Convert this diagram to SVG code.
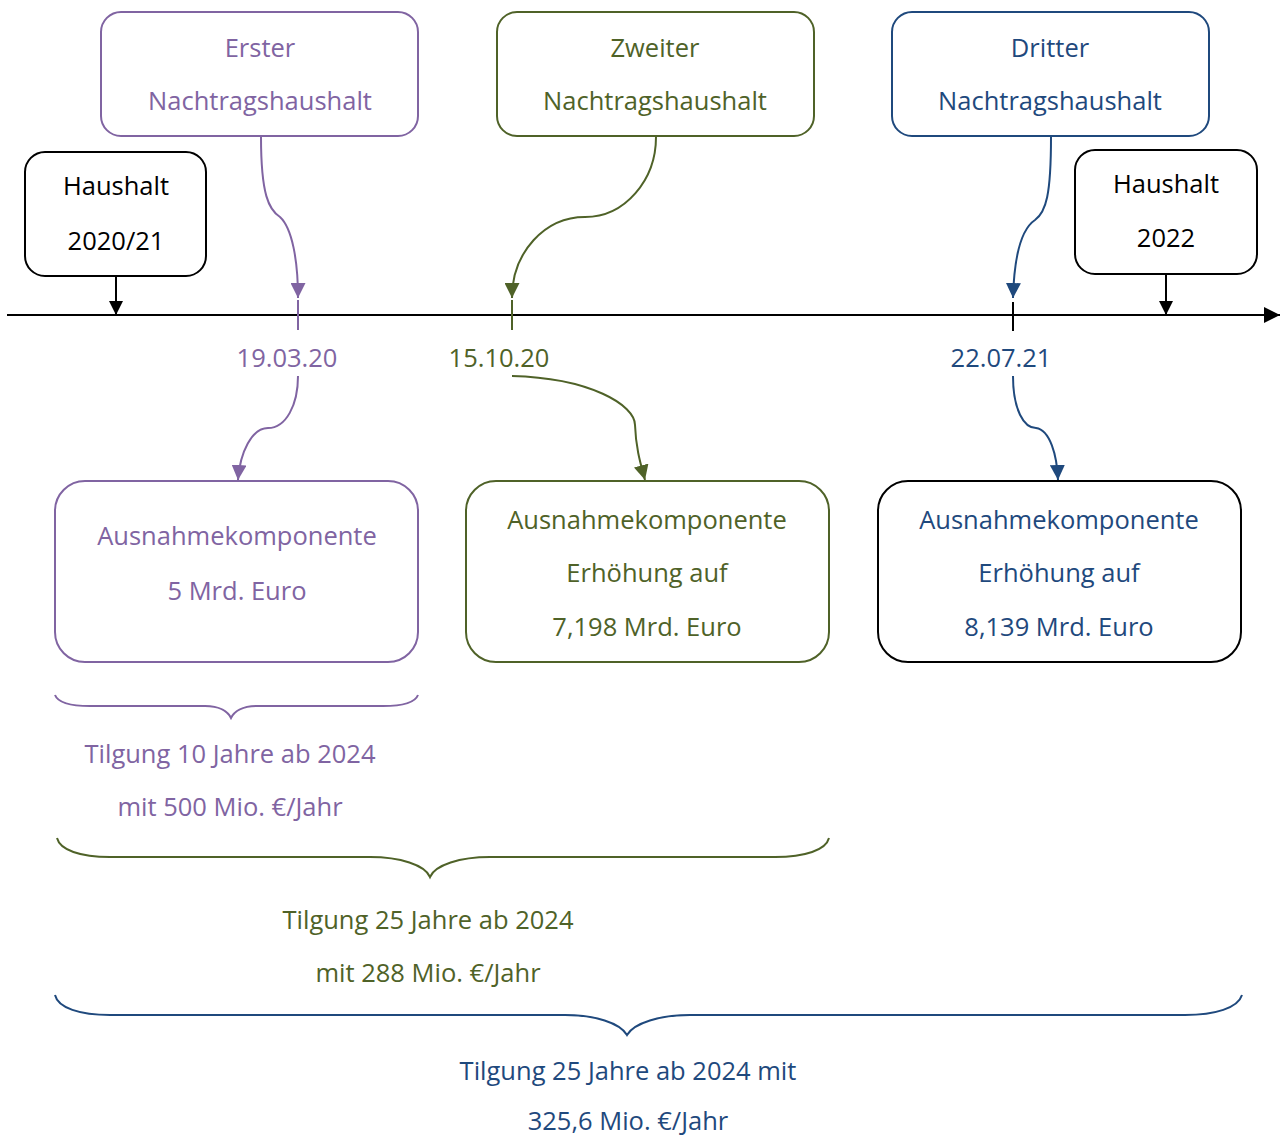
<svg xmlns="http://www.w3.org/2000/svg" width="1285" height="1137" viewBox="0 0 1285 1137">
<style>
text{font-family:"Open Sans","Liberation Sans",sans-serif;font-size:25.5px;text-anchor:middle}
.box{fill:#fff;stroke-width:2}
.p{fill:#8064A2}.g{fill:#4F6228}.b{fill:#1F497D}.k{fill:#000}
.sp{stroke:#8064A2}.sg{stroke:#4F6228}.sb{stroke:#1F497D}.sk{stroke:#000}
.c{fill:none;stroke-width:2}
</style>
<defs>
<marker id="ap" viewBox="0 0 10 10" refX="10" refY="5" markerWidth="15" markerHeight="15" markerUnits="userSpaceOnUse" orient="auto"><path d="M0,0L10,5L0,10z" fill="#8064A2"/></marker>
<marker id="ag" viewBox="0 0 10 10" refX="10" refY="5" markerWidth="15" markerHeight="15" markerUnits="userSpaceOnUse" orient="auto"><path d="M0,0L10,5L0,10z" fill="#4F6228"/></marker>
<marker id="ab" viewBox="0 0 10 10" refX="10" refY="5" markerWidth="15" markerHeight="15" markerUnits="userSpaceOnUse" orient="auto"><path d="M0,0L10,5L0,10z" fill="#1F497D"/></marker>
<marker id="ak" viewBox="0 0 10 10" refX="10" refY="5" markerWidth="14" markerHeight="14" markerUnits="userSpaceOnUse" orient="auto"><path d="M0,0L10,5L0,10z" fill="#000"/></marker>
<marker id="aend" viewBox="0 0 10 10" refX="10" refY="5" markerWidth="16" markerHeight="16" markerUnits="userSpaceOnUse" orient="auto"><path d="M0,0L10,5L0,10z" fill="#000"/></marker>
</defs>

<g id="connectors">
<path class="c sk" d="M7,315 L1280,315" marker-end="url(#aend)"/>
<path class="c sk" d="M116,276 L116,315" marker-end="url(#ak)"/>
<path class="c sk" d="M1166,274 L1166,315" marker-end="url(#ak)"/>
<path class="c sp" d="M298,300 L298,330"/>
<path class="c sg" d="M512,300 L512,330"/>
<path class="c sk" d="M1013,302 L1013,331"/>
<path class="c sp" d="M261,137 C261,195 269,210 280,217 C292,228 298,260 298,298" marker-end="url(#ap)"/>
<path class="c sg" d="M656,137 C656,180 625,217 585,217 C545,217 512,252 512,298" marker-end="url(#ag)"/>
<path class="c sb" d="M1051,137 C1051,195 1046,212 1035,220 C1020,230 1014,262 1013,298" marker-end="url(#ab)"/>
<path class="c sp" d="M298,376 C298,405 286,428 268,428 C252,428 240,452 238,480" marker-end="url(#ap)"/>
<path class="c sg" d="M512,376 C590,378 635,405 635,425 C636,450 641,465 645,480" marker-end="url(#ag)"/>
<path class="c sb" d="M1013,376 C1013,410 1024,428 1036,428 C1050,430 1057,455 1058,480" marker-end="url(#ab)"/>
</g>

<g id="haushalt2020">
<rect class="box sk" x="25" y="152" width="181" height="124" rx="20"/>
<text class="k" x="116" y="195">Haushalt</text>
<text class="k" x="116" y="250">2020/21</text>
</g>
<g id="haushalt2022">
<rect class="box sk" x="1075" y="150" width="182" height="124" rx="20"/>
<text class="k" x="1166" y="193">Haushalt</text>
<text class="k" x="1166" y="247">2022</text>
</g>
<g id="erster">
<rect class="box sp" x="101" y="12" width="317" height="124" rx="20"/>
<text class="p" x="260" y="57">Erster</text>
<text class="p" x="260" y="110">Nachtragshaushalt</text>
</g>
<g id="zweiter">
<rect class="box sg" x="497" y="12" width="317" height="124" rx="20"/>
<text class="g" x="655" y="57">Zweiter</text>
<text class="g" x="655" y="110">Nachtragshaushalt</text>
</g>
<g id="dritter">
<rect class="box sb" x="892" y="12" width="317" height="124" rx="20"/>
<text class="b" x="1050" y="57">Dritter</text>
<text class="b" x="1050" y="110">Nachtragshaushalt</text>
</g>

<g id="date1"><text class="p" x="287" y="367">19.03.20</text></g>
<g id="date2"><text class="g" x="499" y="367">15.10.20</text></g>
<g id="date3"><text class="b" x="1001" y="367">22.07.21</text></g>

<g id="komp1">
<rect class="box sp" x="55" y="481" width="363" height="181" rx="30"/>
<text class="p" x="237" y="545">Ausnahmekomponente</text>
<text class="p" x="237" y="600">5 Mrd. Euro</text>
</g>
<g id="komp2">
<rect class="box sg" x="466" y="481" width="363" height="181" rx="30"/>
<text class="g" x="647" y="529">Ausnahmekomponente</text>
<text class="g" x="647" y="582">Erhöhung auf</text>
<text class="g" x="647" y="636">7,198 Mrd. Euro</text>
</g>
<g id="komp3">
<rect class="box sk" x="878" y="481" width="363" height="181" rx="30"/>
<text class="b" x="1059" y="529">Ausnahmekomponente</text>
<text class="b" x="1059" y="582">Erhöhung auf</text>
<text class="b" x="1059" y="636">8,139 Mrd. Euro</text>
</g>

<g id="tilgung1">
<path class="c sp" d="M55,695 C58,703 70,706 90,706 L205,706 C220,706 228,712 231,718 C234,712 242,706 257,706 L383,706 C403,706 415,703 418,695"/>
<text class="p" x="230" y="763">Tilgung 10 Jahre ab 2024</text>
<text class="p" x="230" y="816">mit 500 Mio. €/Jahr</text>
</g>
<g id="tilgung2">
<path class="c sg" d="M57,838 C60,850 80,857 110,857 L370,857 C400,857 425,865 430,877 C435,865 460,857 490,857 L775,857 C805,857 826,850 829,838"/>
<text class="g" x="428" y="929">Tilgung 25 Jahre ab 2024</text>
<text class="g" x="428" y="982">mit 288 Mio. €/Jahr</text>
</g>
<g id="tilgung3">
<path class="c sb" d="M55,995 C58,1008 80,1015 110,1015 L565,1015 C595,1015 620,1023 627,1035 C634,1023 660,1015 690,1015 L1185,1015 C1215,1015 1238,1008 1242,995"/>
<text class="b" x="628" y="1080">Tilgung 25 Jahre ab 2024 mit</text>
<text class="b" x="628" y="1130">325,6 Mio. €/Jahr</text>
</g>
</svg>
